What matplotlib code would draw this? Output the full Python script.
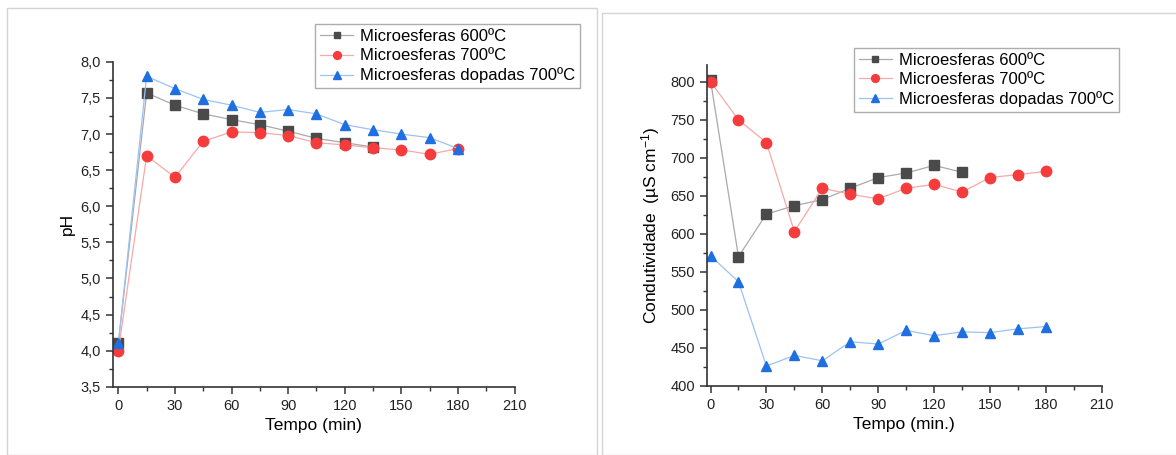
import matplotlib
matplotlib.use('Agg')
import matplotlib.pyplot as plt
from matplotlib.ticker import MultipleLocator, FuncFormatter
from matplotlib.patches import Rectangle

plt.rcParams['font.family'] = ['Liberation Sans', 'DejaVu Sans']
plt.rcParams['mathtext.fontset'] = 'custom'
plt.rcParams['mathtext.rm'] = 'Liberation Sans'
plt.rcParams['mathtext.it'] = 'Liberation Sans:italic'

# dados
tempo = [0, 15, 30, 45, 60, 75, 90, 105, 120, 135, 150, 165, 180]
tempo_600 = tempo[:10]

ph_600 = [4.10, 7.57, 7.40, 7.28, 7.20, 7.13, 7.04, 6.94, 6.88, 6.82]
ph_700 = [4.00, 6.70, 6.40, 6.90, 7.03, 7.02, 6.98, 6.88, 6.85, 6.81, 6.78, 6.72, 6.80]
ph_dop = [4.10, 7.80, 7.63, 7.48, 7.40, 7.30, 7.34, 7.28, 7.13, 7.06, 7.00, 6.95, 6.80]

cond_600 = [802, 570, 626, 637, 645, 660, 674, 680, 690, 681]
cond_700 = [800, 750, 720, 603, 660, 652, 646, 660, 665, 655, 674, 678, 682]
cond_dop = [571, 537, 426, 440, 433, 458, 455, 473, 466, 471, 470, 475, 478]

labels = ['Microesferas 600ºC', 'Microesferas 700ºC', 'Microesferas dopadas 700ºC']

fig = plt.figure(figsize=(11.76, 4.55), dpi=100)

# molduras dos dois paineis
fig.patches.append(Rectangle((0.006, 0.0), 0.502, 0.982, transform=fig.transFigure,
                             fill=False, edgecolor='#d4d4d4', lw=1))
fig.patches.append(Rectangle((0.512, 0.0), 0.49, 0.971, transform=fig.transFigure,
                             fill=False, edgecolor='#d4d4d4', lw=1))

ax1 = fig.add_axes([0.0958, 0.150, 0.3418, 0.714])
ax2 = fig.add_axes([0.601, 0.152, 0.336, 0.705])


def desenha(ax, y600, y700, ydop, ancora):
    ax.plot(tempo_600, y600, color='#aaaaaa', lw=0.9, marker='s', ms=6.5,
            mfc='#4a4a4a', mec='#4a4a4a', label=labels[0])
    ax.plot(tempo, y700, color='#f7a8a8', lw=0.9, marker='o', ms=7.5,
            mfc='#f53c3c', mec='#f53c3c', label=labels[1])
    ax.plot(tempo, ydop, color='#9cc2f2', lw=0.9, marker='^', ms=7.5,
            mfc='#1f6fe0', mec='#1f6fe0', label=labels[2])
    for s in ['top', 'right']:
        ax.spines[s].set_visible(False)
    for s in ['left', 'bottom']:
        ax.spines[s].set_linewidth(1.2)
        ax.spines[s].set_color('#333333')
    ax.xaxis.set_major_locator(MultipleLocator(30))
    ax.xaxis.set_minor_locator(MultipleLocator(15))
    ax.tick_params(which='major', direction='out', length=5, width=1.1,
                   labelsize=10.5, colors='#333333', labelcolor='#222222')
    ax.tick_params(which='minor', direction='out', length=3, width=1.0, colors='#333333')
    leg = ax.legend(loc='upper right', bbox_to_anchor=ancora, fontsize=12,
                    frameon=True, fancybox=False, markerscale=0.75,
                    handlelength=2.0, handletextpad=0.4, borderpad=0.3,
                    labelspacing=0.25, borderaxespad=0)
    leg.get_frame().set_edgecolor('#999999')
    leg.get_frame().set_linewidth(1.0)


desenha(ax1, ph_600, ph_700, ph_dop, (1.163, 1.116))
ax1.set_xlim(-3, 210)
ax1.set_ylim(3.5, 8.0)
ax1.yaxis.set_major_locator(MultipleLocator(0.5))
ax1.yaxis.set_minor_locator(MultipleLocator(0.25))
ax1.yaxis.set_major_formatter(FuncFormatter(lambda v, p: f'{v:.1f}'.replace('.', ',')))
ax1.set_xlabel('Tempo (min)', fontsize=12.5, labelpad=4)
ax1.set_ylabel('pH', fontsize=12.5, labelpad=4)

desenha(ax2, cond_600, cond_700, cond_dop, (1.043, 1.053))
ax2.set_xlim(-2, 210)
ax2.set_ylim(400, 822)
ax2.yaxis.set_major_locator(MultipleLocator(50))
ax2.yaxis.set_minor_locator(MultipleLocator(25))
ax2.set_xlabel('Tempo (min.)', fontsize=12.5, labelpad=4)
ax2.set_ylabel('Condutividade  (µS cm$^{-1}$)', fontsize=12.5, labelpad=6)

fig.savefig('out.png', dpi=100)
